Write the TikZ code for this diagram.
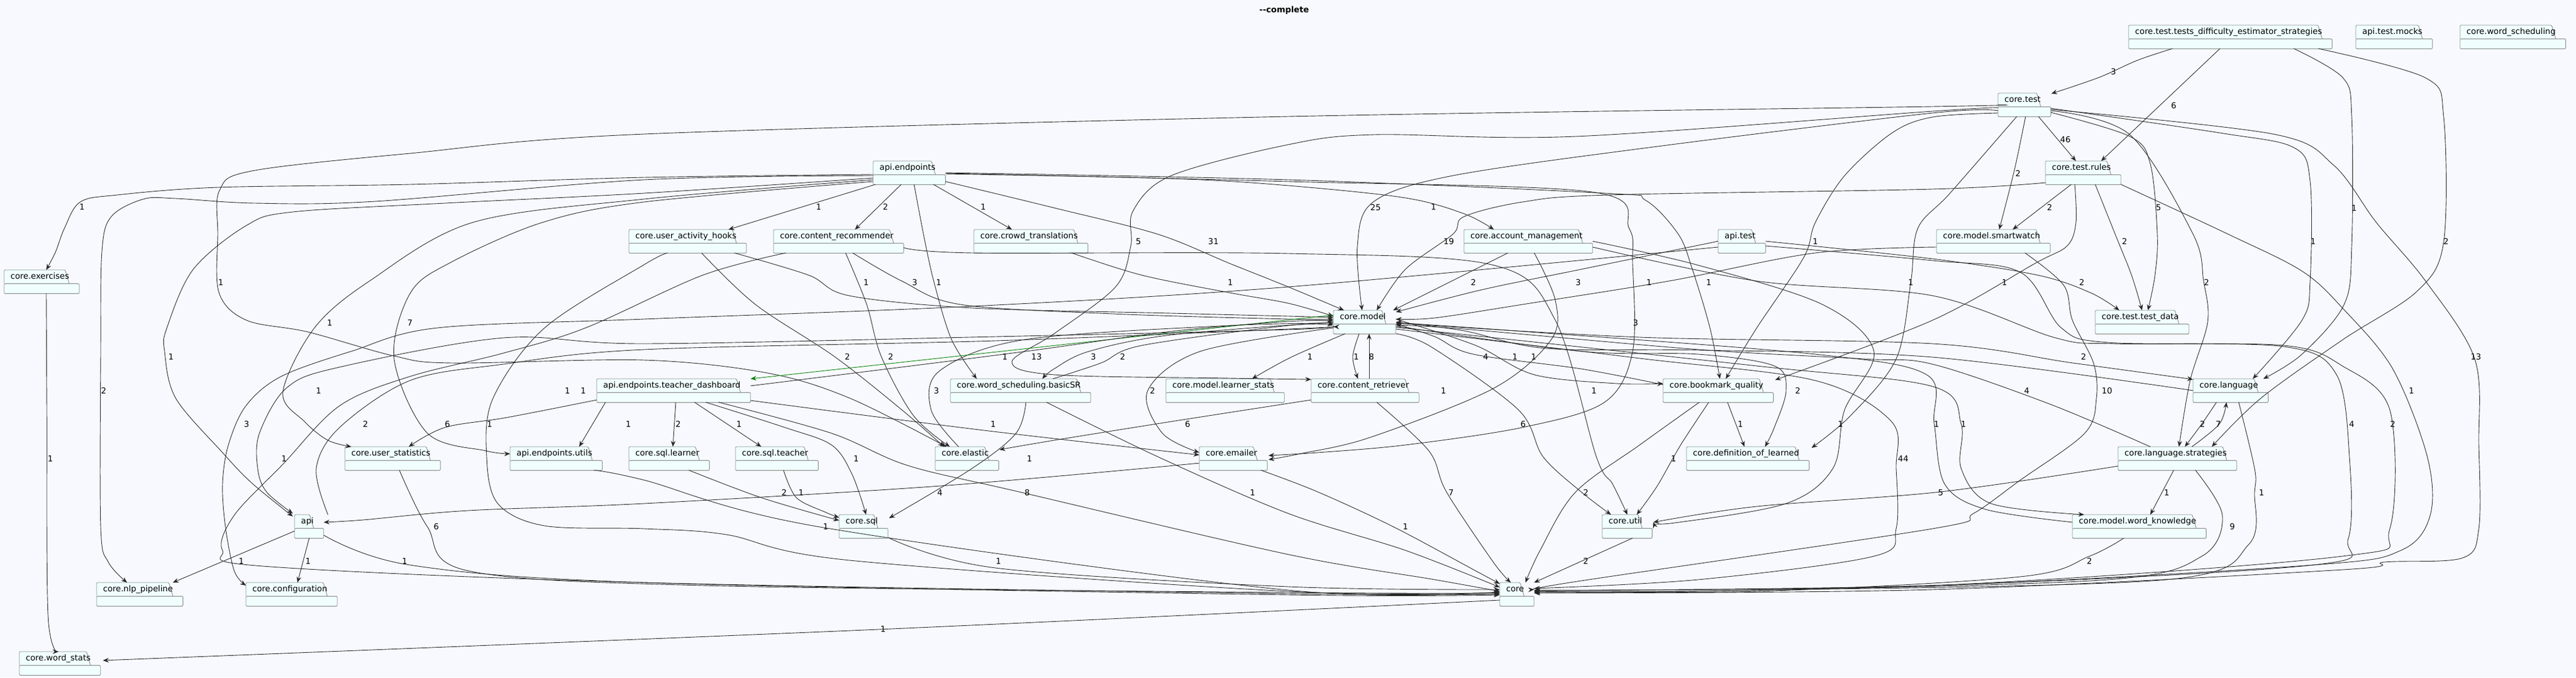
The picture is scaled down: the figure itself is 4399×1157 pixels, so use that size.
\documentclass[tikz,border=0pt]{standalone}
\usepackage{fontspec}
\setmainfont{DejaVu Sans}
\usetikzlibrary{arrows.meta,calc,fit}
\definecolor{bgc}{HTML}{F8F9FE}
\definecolor{pkgfill}{HTML}{F0FFFE}
\definecolor{pkgline}{HTML}{858C8A}
\definecolor{cyc}{HTML}{008000}
\tikzset{
  pkgtab/.style={inner sep=0pt, minimum height=23pt, text height=10.5pt, text depth=3pt, anchor=north west, font=\fontsize{14}{16}\selectfont},
  pkgpart/.style={fill=pkgfill, draw=pkgline, line width=0.9pt, rounded corners=1.5pt},
  dep/.style={draw=black!85, line width=0.9pt, -{Stealth[length=10pt,width=8pt,inset=3.5pt]}},
  lbl/.style={font=\fontsize{14}{16}\selectfont, inner sep=0pt},
  sm/.style={smooth, tension=0.55},
}
\newcommand\pkg[3]{%
  \node[pkgtab] (#1t) at (#2) {\hspace{11pt}\phantom{#3}\hspace{15pt}};
  \coordinate (#1c) at ([xshift=17pt,yshift=-17pt]#1t.south east);
  \path[pkgpart] (#1t.south west) -- (#1t.north west) -- ([xshift=-7pt]#1t.north east) -- (#1t.south east);
  \path[pkgpart] (#1t.south west) rectangle (#1c);
  \node[pkgtab] (#1x) at (#2) {\hspace{11pt}#3\hspace{15pt}};
  \node[inner sep=0pt, outer sep=0pt, fit={(#1t) (#1c)}] (#1) {};
}
\begin{document}
\begin{tikzpicture}[x=1pt,y=-1pt]
\useasboundingbox (0,0) rectangle (4399,1157);
\fill[bgc] (0,0) rectangle (4399,1157);
\node[font=\bfseries\fontsize{14}{16}\selectfont] (title) at (2193,18) {-\kern0pt-complete};
% packages
\pkg{tde}{3635,43}{core.test.tests\_difficulty\_estimator\_strategies}
\pkg{atm}{4023,43}{api.test.mocks}
\pkg{wsch}{4201,43}{core.word\_scheduling}
\pkg{ctest}{3412,159}{core.test}
\pkg{ae}{1491,275}{api.endpoints}
\pkg{tr}{3493,275}{core.test.rules}
\pkg{uah}{1074,392}{core.user\_activity\_hooks}
\pkg{cr}{1321,392}{core.content\_recommender}
\pkg{ct}{1663,392}{core.crowd\_translations}
\pkg{am}{2500,392}{core.account\_management}
\pkg{at}{2934,392}{api.test}
\pkg{sw}{3307,392}{core.model.smartwatch}
\pkg{ex}{7,461}{core.exercises}
\pkg{m}{2277,530}{core.model}
\pkg{td}{3578,530}{core.test.test\_data}
\pkg{tdb}{1019,647}{api.endpoints.teacher\_dashboard}
\pkg{bsr}{1623,647}{core.word\_scheduling.basicSR}
\pkg{ls}{1991,647}{core.model.learner\_stats}
\pkg{crt}{2239,647}{core.content\_retriever}
\pkg{bq}{2840,647}{core.bookmark\_quality}
\pkg{lang}{3745,647}{core.language}
\pkg{us}{589,763}{core.user\_statistics}
\pkg{aeu}{871,763}{api.endpoints.utils}
\pkg{sl}{1074,763}{core.sql.learner}
\pkg{st}{1256,763}{core.sql.teacher}
\pkg{el}{1597,763}{core.elastic}
\pkg{em}{2048,763}{core.emailer}
\pkg{dl}{2880,763}{core.definition\_of\_learned}
\pkg{lst}{3617,763}{core.language.strategies}
\pkg{api}{503,879}{api}
\pkg{sql}{1433,879}{core.sql}
\pkg{util}{2736,879}{core.util}
\pkg{wk}{3539,879}{core.model.word\_knowledge}
\pkg{nlp}{165,995}{core.nlp\_pipeline}
\pkg{conf}{420,995}{core.configuration}
\pkg{core}{2561,995}{core}
\pkg{ws}{33,1113}{core.word\_stats}
% edges
\draw[dep] plot[sm] coordinates {($(tde.north west)+(75,40)$) (3650,103) (3585,132) ($(ctest.north west)+(91,1)$)};
\draw[dep] ($(tde.north west)+(156,40)$) -- ($(tr.north west)+(95,0)$);
\draw[dep] ($(ctest.north west)+(69,40)$) -- ($(tr.north west)+(52,0)$);
\draw[dep] plot[sm] coordinates {($(ctest.north west)+(47,40)$) (3440,290) ($(sw.north west)+(107,0)$)};
\draw[dep] ($(tr.north west)+(44,40)$) -- ($(sw.north west)+(130,0)$);
\draw[dep] plot[sm] coordinates {($(ctest.north east)+(0,33)$) (3637,233) (3672,280) (3684,400) (3680,470) ($(td.north west)+(90,0)$)};
\draw[dep] plot[sm] coordinates {($(tde.north west)+(282,40)$) (4001,133) (4016,200) (4016,420) (4003,520) (3931,605) ($(lang.north west)+(120,0)$)};
\draw[dep] plot[sm] coordinates {($(tde.north west)+(324,40)$) (4142,133) (4173,200) (4173,413) (4128,497) (4001,580) (3861,680) ($(lst.north west)+(160,0)$)};
\draw[dep] plot[sm] coordinates {($(ctest.north east)+(0,26)$) (3791,227) (3917,252) (3945,310) (3945,480) (3931,547) ($(lang.north west)+(102,0)$)};
\draw[dep] plot[sm] coordinates {($(ctest.north east)+(0,28)$) (3882,229) (3985,282) (4058,380) (4142,480) (4226,613) (4233,760) (4233,903) (4205,953) (4072,960) (4001,973) (3300,1007) ($(core.north east)+(0,18)$)};
\draw[dep] plot[sm] coordinates {($(ctest.north west)+(0,30)$) (3300,193) (2831,250) (2481,300) (2345,345) (2318,420) ($(m.north west)+(49,0)$)};
\draw[dep] plot[sm] coordinates {($(ctest.north west)+(0,25)$) (3300,190) (2691,233) (2347,230) (2200,247) (2000,300) (1935,360) (1931,420) (1905,490) (1800,570) (1728,618) (1800,640) (2100,646) ($(crt.north west)+(0,1)$)};
\draw[dep] plot[sm] coordinates {($(ctest.north west)+(0,20)$) (3300,182) (2200,199) (1100,229) (700,262) (430,292) (375,325) (372,400) (374,500) (421,547) (526,567) (673,608) (772,620) (1100,615) (1310,637) (1451,680) ($(el.north west)+(19,0)$)};
\draw[dep] plot[sm] coordinates {($(ae.north west)+(0,23)$) (1100,303) (700,315) (372,320) (200,333) (137,345) (110,390) (95,430) ($(ex.north west)+(72,0)$)};
\draw[dep] plot[sm] coordinates {($(ae.north west)+(0,25)$) (1100,307) (640,344) (435,347) (300,339) (245,340) (190,370) (174,430) (172,600) (172,900) (185,960) ($(nlp.north west)+(52,0)$)};
\draw[dep] ($(ae.north west)+(4,40)$) -- ($(uah.north west)+(170,0)$);
\draw[dep] ($(ae.north west)+(48,40)$) -- ($(cr.north west)+(139,0)$);
\draw[dep] ($(ae.north west)+(103,40)$) -- ($(ct.north west)+(65,0)$);
\draw[dep] plot[sm] coordinates {($(ae.north east)+(0,22)$) (2000,305) (2200,317) (2400,338) (2500,365) ($(am.north west)+(51,0)$)};
\draw[dep] plot[sm] coordinates {($(ae.north east)+(0,35)$) (1800,355) (1977,400) (2100,450) (2200,490) ($(m.north west)+(18,0)$)};
\draw[dep] plot[sm] coordinates {($(ae.north west)+(70,40)$) (1577,400) (1595,482) (1625,580) ($(bsr.north west)+(45,0)$)};
\draw[dep] plot[sm] coordinates {($(ae.north west)+(0,29)$) (1100,330) (760,347) (500,362) (421,385) (330,460) (285,560) (281,600) (300,680) (380,773) (430,825) ($(api.north west)+(-3,3)$)};
\draw[dep] plot[sm] coordinates {($(ae.north west)+(0,32)$) (1100,340) (807,380) (631,480) (537,560) (483,670) (520,720) (560,752) ($(us.north west)+(11,0)$)};
\draw[dep] plot[sm] coordinates {($(ae.north west)+(0,35)$) (1100,345) (926,380) (772,447) (701,500) (673,613) (730,740) (830,770) ($(aeu.north west)+(0,12)$)};
\draw[dep] plot[sm] coordinates {($(ae.north east)+(0,20)$) (2200,307) (2740,330) (2810,342) (2866,400) (2890,460) (2920,560) ($(bq.north west)+(97,0)$)};
\draw[dep] plot[sm] coordinates {($(ae.north east)+(0,21)$) (2200,310) (2719,328) (2782,390) (2788,450) (2788,600) (2740,687) (2600,730) (2400,760) (2250,773) ($(em.north east)+(2,15)$)};
\draw[dep] plot[sm] coordinates {($(tr.north west)+(0,37)$) (3300,323) (2747,333) (2600,345) (2500,370) (2481,400) (2400,460) ($(m.north west)+(74,0)$)};
\draw[dep] plot[sm] coordinates {($(ctest.north west)+(0,34)$) (3300,200) (3231,227) (3150,300) (3100,380) (3080,440) (3000,560) ($(bq.north west)+(107,0)$)};
\draw[dep] plot[sm] coordinates {($(tr.north west)+(85,40)$) (3612,400) (3640,470) ($(td.north west)+(80,0)$)};
\draw[dep] plot[sm] coordinates {($(at.north east)+(0,20)$) (3300,442) (3480,470) (3570,500) ($(td.north west)+(41,0)$)};
\draw[dep] plot[sm] coordinates {($(tr.north west)+(50,40)$) (3545,380) (3530,420) (3475,450) (3300,547) ($(bq.north east)+(3,2)$)};
\draw[dep] plot[sm] coordinates {($(tr.north east)+(0,40)$) (3805,400) (3931,463) (4001,527) (4086,630) (4145,780) (4150,880) (4100,940) (3950,965) (3300,1000) ($(core.north east)+(0,14)$)};
\draw[dep] plot[sm] coordinates {($(ctest.north west)+(32,40)$) (3330,330) (3275,390) (3263,482) (3238,613) (3160,710) ($(dl.north east)+(4,2)$)};
\draw[dep] plot[sm] coordinates {($(ctest.north east)+(0,30)$) (3637,230) (3745,400) (3763,480) (3770,550) (3740,650) ($(lst.north west)+(104,0)$)};
\draw[dep] plot[sm] coordinates {($(sw.north west)+(0,30)$) (3100,432) (2850,480) (2600,520) (2450,543) ($(m.north east)+(0,15)$)};
\draw[dep] ($(am.north west)+(75,40)$) -- ($(m.north west)+(102,0)$);
\draw[dep] plot[sm] coordinates {($(at.north west)+(0,20)$) (2700,460) (2530,495) ($(m.north east)+(0,3)$)};
\draw[dep] plot[sm] coordinates {($(ct.north west)+(167,40)$) (1950,470) (2100,500) (2200,518) ($(m.north west)+(0,10)$)};
\draw[dep] plot[sm] coordinates {($(cr.north west)+(135,40)$) (1540,480) (1640,520) (1900,536) (2200,545) ($(m.north west)+(0,15)$)};
\draw[dep] plot[sm] coordinates {($(uah.north west)+(180,40)$) (1381,470) (1450,505) (1660,526) (2000,535) (2200,540) ($(m.north west)+(0,12)$)};
\draw[dep] plot[sm] coordinates {($(uah.north west)+(124,40)$) (1290,520) (1425,609) (1540,700) ($(el.north west)+(15,0)$)};
\draw[dep] plot[sm] coordinates {($(cr.north west)+(123,40)$) (1480,520) (1505,609) (1560,710) ($(el.north west)+(25,0)$)};
\draw[dep] plot[sm] coordinates {($(el.north west)+(40,0)$) (1590,700) (1605,633) (1750,580) (2100,556) ($(m.north west)+(0,22)$)};
\draw[dep, draw=cyc, -{Stealth[length=10pt,width=8pt,inset=3.5pt,color=cyc]}] ($(m.north west)+(0,8)$) -- (tdb.north east);
\draw[dep] plot[sm] coordinates {($(tdb.north east)+(0,12)$) (1500,632) (1760,599) (2000,566) (2200,549) ($(m.north west)+(0,18)$)};
\draw[dep] plot[sm] coordinates {($(m.north west)+(0,20)$) (2000,572) (1860,600) (1800,630) ($(bsr.north west)+(157,0)$)};
\draw[dep] plot[sm] coordinates {($(bsr.north west)+(175,0)$) (1880,620) (1950,590) (2200,556) ($(m.north west)+(0,25)$)};
\draw[dep] plot[sm] coordinates {($(m.north west)+(20,40)$) (2205,610) ($(ls.north west)+(147,0)$)};
\draw[dep] plot[sm] coordinates {($(m.north west)+(44,40)$) (2310,610) ($(crt.north west)+(80,0)$)};
\draw[dep] ($(crt.north west)+(99,0)$) -- ($(m.north west)+(61,40)$);
\draw[dep] plot[sm] coordinates {($(bq.north west)+(0,10)$) (2700,630) (2516,605) (2450,575) ($(m.north east)+(0,23)$)};
\draw[dep] plot[sm] coordinates {($(m.north east)+(0,15)$) (2520,590) (2620,640) (2760,655) ($(bq.north west)+(0,8)$)};
\draw[dep] plot[sm] coordinates {($(lang.north west)+(0,20)$) (3300,610) (2900,598) (2640,595) (2500,565) ($(m.north east)+(0,20)$)};
\draw[dep] plot[sm] coordinates {($(m.north east)+(0,22)$) (2800,576) (3300,587) (3540,620) ($(lang.north west)+(0,1)$)};
\draw[dep] plot[sm] coordinates {($(m.north west)+(0,27)$) (2200,563) (1700,575) (1100,587) (860,577) (580,627) (490,662) (443,740) (440,800) (455,840) ($(api.north west)+(-3,-2)$)};
\draw[dep] plot[sm] coordinates {($(at.north west)+(0,30)$) (2200,490) (1661,523) (1100,545) (747,560) (600,600) (480,643) (420,693) (390,760) (380,827) (385,900) (400,975) ($(conf.north west)+(0,5)$)};
\draw[dep] plot[sm] coordinates {($(api.north west)+(57,0)$) (540,800) (580,730) (700,650) (860,622) (1100,597) (1700,582) (2200,562) ($(m.north west)+(0,28)$)};
\draw[dep] plot[sm] coordinates {($(cr.north west)+(21,40)$) (1200,470) (1000,560) (860,603) (700,643) (580,693) (483,793) (400,880) (380,940) (449,967) (1100,995) (2200,1014) ($(core.north west)+(0,20)$)};
\draw[dep] plot[sm] coordinates {($(am.north west)+(120,40)$) (2656,513) (2649,580) (2551,663) (2340,747) (2220,775) ($(em.north east)+(2,22)$)};
\draw[dep] plot[sm] coordinates {($(am.north east)+(0,20)$) (2900,453) (3112,520) (3200,600) (3150,700) (3130,800) (3050,860) (2860,893) ($(util.north east)+(2,13)$)};
\draw[dep] plot[sm] coordinates {($(cr.north east)+(0,31)$) (1661,432) (2200,433) (2551,453) (2656,547) (2726,780) (2754,827) ($(util.north west)+(43,0)$)};
\draw[dep] plot[sm] coordinates {($(m.north east)+(0,27)$) (2700,600) (2900,605) (3030,625) (3050,667) (3030,730) ($(dl.north west)+(134,0)$)};
\draw[dep] plot[sm] coordinates {($(lst.north west)+(55,0)$) (3500,690) (3300,622) (3182,613) (2901,597) (2500,562) ($(m.north east)+(0,25)$)};
\draw[dep] plot[sm] coordinates {($(sw.north west)+(151,40)$) (3524,487) (3539,547) (3575,620) (3580,680) (3560,740) (3450,820) (3370,877) (3300,903) (2700,992) ($(core.north east)+(0,12)$)};
\draw[dep] plot[sm] coordinates {($(at.north east)+(0,28)$) (3300,445) (3450,465) (3520,560) (3600,585) (3900,592) (3990,640) (4012,780) (4010,920) (3950,965) (3300,1000) ($(core.north east)+(0,14)$)};
\draw[dep] plot[sm] coordinates {($(am.north east)+(0,30)$) (3000,480) (3300,505) (3510,577) (3609,587) (3900,590) (4000,625) (4081,700) (4081,903) (4000,950) (3300,1000) ($(core.north east)+(0,13)$)};
\draw[dep] plot[sm] coordinates {($(wk.north west)+(0,13)$) (3391,870) (3321,827) (3303,724) (3290,640) (3100,605) (2600,566) ($(m.north east)+(0,21)$)};
\draw[dep] plot[sm] coordinates {($(m.north east)+(0,29)$) (3000,625) (3300,660) (3349,724) (3349,800) (3400,860) ($(wk.north west)+(20,0)$)};
\draw[dep] plot[sm] coordinates {($(m.north west)+(0,30)$) (2050,600) (1960,667) (1985,740) ($(em.north west)+(0,10)$)};
\draw[dep] plot[sm] coordinates {($(tdb.north west)+(0,36)$) (866,713) (760,730) ($(us.north west)+(109,0)$)};
\draw[dep] ($(tdb.north west)+(15,40)$) -- ($(aeu.north west)+(118,0)$);
\draw[dep] ($(tdb.north west)+(135,40)$) -- ($(sl.north west)+(75,0)$);
\draw[dep] ($(tdb.north west)+(167,40)$) -- ($(st.north west)+(44,0)$);
\draw[dep] plot[sm] coordinates {($(tdb.north east)+(0,37)$) (1680,735) ($(em.north west)+(0,14)$)};
\draw[dep] plot[sm] coordinates {($(tdb.north west)+(186,40)$) (1340,730) (1420,760) (1455,810) ($(sql.north west)+(46,0)$)};
\draw[dep] plot[sm] coordinates {($(tdb.north west)+(208,40)$) (1420,740) (1550,795) (1740,840) (2200,947) (2450,990) ($(core.north west)+(0,15)$)};
\draw[dep] plot[sm] coordinates {($(bsr.north west)+(129,40)$) (1735,740) (1660,800) ($(sql.north east)+(2,6)$)};
\draw[dep] plot[sm] coordinates {($(bsr.north west)+(164,40)$) (1977,780) (2200,877) (2400,940) ($(core.north west)+(0,8)$)};
\draw[dep] plot[sm] coordinates {($(crt.north west)+(0,36)$) (2000,720) (1800,752) ($(el.north east)+(1,5)$)};
\draw[dep] plot[sm] coordinates {($(crt.north west)+(112,40)$) (2440,770) (2470,840) (2550,960) ($(core.north west)+(19,0)$)};
\draw[dep] plot[sm] coordinates {($(m.north east)+(0,40)$) (2445,593) (2593,700) (2635,780) (2700,840) ($(util.north west)+(15,0)$)};
\draw[dep] ($(bq.north west)+(110,40)$) -- ($(dl.north west)+(99,0)$);
\draw[dep] plot[sm] coordinates {($(bq.north west)+(78,40)$) (2870,760) (2830,830) ($(util.north west)+(59,0)$)};
\draw[dep] plot[sm] coordinates {($(bq.north west)+(62,40)$) (2800,760) (2690,841) (2630,940) ($(core.north west)+(44,0)$)};
\draw[dep] ($(util.north west)+(52,40)$) -- (core.north east);
\draw[dep] plot[sm] coordinates {($(m.north east)+(0,32)$) (2800,612) (3100,650) (3230,720) (3238,800) (3238,903) (3200,950) (2900,990) ($(core.north east)+(0,10)$)};
\draw[dep] plot[sm] coordinates {($(em.north west)+(0,28)$) (1605,830) (1100,860) (800,872) (620,888) ($(api.north east)+(0,13)$)};
\draw[dep] plot[sm] coordinates {($(em.north west)+(105,40)$) (2250,840) (2380,900) (2520,975) ($(core.north west)+(0,2)$)};
\draw[dep] plot[sm] coordinates {($(sl.north west)+(102,40)$) (1300,850) ($(sql.north west)+(0,10)$)};
\draw[dep] plot[sm] coordinates {($(st.north west)+(82,40)$) (1360,850) (1410,875) ($(sql.north west)+(0,5)$)};
\draw[dep] plot[sm] coordinates {($(sql.north east)+(0,39)$) (1700,970) (2200,1002) ($(core.north west)+(0,12)$)};
\draw[dep] plot[sm] coordinates {($(us.north west)+(93,40)$) (730,900) (800,975) (1200,1000) (2200,1012) ($(core.north west)+(0,18)$)};
\draw[dep] plot[sm] coordinates {($(aeu.north west)+(143,40)$) (1100,820) (1400,900) (2200,1008) ($(core.north west)+(0,16)$)};
\draw[dep] ($(api.north west)+(0,28)$) -- ($(nlp.north west)+(130,0)$);
\draw[dep] ($(api.north west)+(25,40)$) -- ($(conf.north west)+(88,0)$);
\draw[dep] plot[sm] coordinates {($(api.north east)+(0,35)$) (700,965) (1100,995) (2200,1016) ($(core.north west)+(0,21)$)};
\draw[dep] plot[sm] coordinates {($(wk.north west)+(88,40)$) (3568,950) (3450,985) (3000,1010) ($(core.north east)+(0,15)$)};
\draw[dep] ($(lst.north west)+(95,40)$) -- ($(wk.north west)+(133,0)$);
\draw[dep] plot[sm] coordinates {($(lst.north west)+(0,33)$) (3314,840) (3000,865) ($(util.north east)+(2,13)$)};
\draw[dep] plot[sm] coordinates {($(lst.north west)+(132,40)$) (3795,880) (3760,950) (3600,990) (3000,1008) ($(core.north east)+(0,17)$)};
\draw[dep] plot[sm] coordinates {($(lang.north west)+(40,40)$) (3760,724) ($(lst.north west)+(114,0)$)};
\draw[dep] plot[sm] coordinates {($(lst.north west)+(126,0)$) (3790,724) ($(lang.north west)+(57,40)$)};
\draw[dep] plot[sm] coordinates {($(lang.north west)+(78,40)$) (3850,800) (3850,841) (3840,930) (3700,990) (3000,1008) ($(core.north east)+(0,16)$)};
\draw[dep] plot[sm] coordinates {($(ex.north west)+(72,40)$) (80,700) (82,1050) ($(ws.north west)+(67,0)$)};
\draw[dep] plot[sm] coordinates {($(core.north west)+(0,30)$) (1500,1075) ($(ws.north east)+(4,15)$)};
\draw[dep] plot[sm] coordinates {($(uah.north west)+(66,40)$) (1100,452) (930,560) (842,680) (831,780) (850,860) (930,898) (1100,903) (1240,913) (1451,957) (2200,1010) ($(core.north west)+(0,17)$)};
% labels
\node[lbl] (l1) at (3609,122) {3};
\node[lbl] (l2) at (3712,180) {6};
\node[lbl] (l3) at (3527,238) {46};
\node[lbl] (l4) at (3446,296) {2};
\node[lbl] (l5) at (140,353) {1};
\node[lbl] (l6) at (1398,353) {1};
\node[lbl] (l7) at (1512,353) {2};
\node[lbl] (l8) at (1679,353) {1};
\node[lbl] (l9) at (2349,354) {25};
\node[lbl] (l10) at (2448,353) {1};
\node[lbl] (l11) at (3500,354) {2};
\node[lbl] (l12) at (3686,354) {5};
\node[lbl] (l13) at (4020,355) {1};
\node[lbl] (l14) at (1944,412) {5};
\node[lbl] (l15) at (2072,412) {31};
\node[lbl] (l16) at (2474,412) {19};
\node[lbl] (l17) at (3100,412) {1};
\node[lbl] (l18) at (3628,412) {2};
\node[lbl] (l19) at (3950,412) {1};
\node[lbl] (l20) at (4177,412) {2};
\node[lbl] (l21) at (377,482) {1};
\node[lbl] (l22) at (1479,482) {1};
\node[lbl] (l23) at (1562,482) {3};
\node[lbl] (l24) at (1603,482) {1};
\node[lbl] (l25) at (2101,482) {1};
\node[lbl] (l26) at (2516,482) {2};
\node[lbl] (l27) at (2695,482) {3};
\node[lbl] (l28) at (2816,482) {1};
\node[lbl] (l29) at (2918,482) {1};
\node[lbl] (l30) at (3263,482) {1};
\node[lbl] (l31) at (3423,482) {1};
\node[lbl] (l32) at (3555,482) {2};
\node[lbl] (l33) at (3768,482) {2};
\node[lbl] (l34) at (563,551) {1};
\node[lbl] (l35) at (700,551) {7};
\node[lbl] (l36) at (2793,551) {3};
\node[lbl] (l37) at (292,609) {1};
\node[lbl] (l38) at (1447,609) {2};
\node[lbl] (l39) at (1521,609) {2};
\node[lbl] (l40) at (1716,609) {1};
\node[lbl] (l41) at (1770,609) {13};
\node[lbl] (l42) at (1867,609) {3};
\node[lbl] (l43) at (1917,609) {2};
\node[lbl] (l44) at (2237,609) {1};
\node[lbl] (l45) at (2316,609) {1};
\node[lbl] (l46) at (2342,609) {8};
\node[lbl] (l47) at (2537,609) {4};
\node[lbl] (l48) at (2587,609) {1};
\node[lbl] (l49) at (2619,609) {1};
\node[lbl] (l50) at (3558,609) {2};
\node[lbl] (l51) at (4228,609) {13};
\node[lbl] (l52) at (177,667) {2};
\node[lbl] (l53) at (544,667) {1};
\node[lbl] (l54) at (969,667) {1};
\node[lbl] (l55) at (996,667) {1};
\node[lbl] (l56) at (1599,667) {3};
\node[lbl] (l57) at (1968,667) {2};
\node[lbl] (l58) at (2465,667) {1};
\node[lbl] (l59) at (2722,667) {1};
\node[lbl] (l60) at (3070,667) {2};
\node[lbl] (l61) at (3461,667) {4};
\node[lbl] (l62) at (3598,667) {10};
\node[lbl] (l63) at (4118,667) {1};
\node[lbl] (l64) at (421,724) {3};
\node[lbl] (l65) at (624,724) {2};
\node[lbl] (l66) at (764,724) {6};
\node[lbl] (l67) at (836,724) {1};
\node[lbl] (l68) at (1073,724) {1};
\node[lbl] (l69) at (1158,724) {2};
\node[lbl] (l70) at (1262,724) {1};
\node[lbl] (l71) at (1696,724) {1};
\node[lbl] (l72) at (2028,724) {6};
\node[lbl] (l73) at (2601,724) {6};
\node[lbl] (l74) at (2972,724) {1};
\node[lbl] (l75) at (3143,724) {1};
\node[lbl] (l76) at (3307,724) {1};
\node[lbl] (l77) at (3353,724) {1};
\node[lbl] (l78) at (3761,724) {2};
\node[lbl] (l79) at (3788,724) {7};
\node[lbl] (l80) at (4016,724) {4};
\node[lbl] (l81) at (4086,724) {2};
\node[lbl] (l82) at (86,783) {1};
\node[lbl] (l83) at (485,783) {1};
\node[lbl] (l84) at (1462,783) {1};
\node[lbl] (l85) at (1758,783) {1};
\node[lbl] (l86) at (2858,783) {1};
\node[lbl] (l87) at (3250,783) {44};
\node[lbl] (l88) at (1339,841) {2};
\node[lbl] (l89) at (1368,841) {1};
\node[lbl] (l90) at (1605,841) {4};
\node[lbl] (l91) at (1754,841) {8};
\node[lbl] (l92) at (2139,841) {1};
\node[lbl] (l93) at (2478,841) {7};
\node[lbl] (l94) at (2708,841) {2};
\node[lbl] (l95) at (3314,841) {5};
\node[lbl] (l96) at (3700,841) {1};
\node[lbl] (l97) at (3862,841) {1};
\node[lbl] (l98) at (745,899) {6};
\node[lbl] (l99) at (1410,899) {1};
\node[lbl] (l100) at (2400,899) {1};
\node[lbl] (l101) at (3812,899) {9};
\node[lbl] (l102) at (412,958) {1};
\node[lbl] (l103) at (526,958) {1};
\node[lbl] (l104) at (691,958) {1};
\node[lbl] (l105) at (1705,958) {1};
\node[lbl] (l106) at (2708,958) {2};
\node[lbl] (l107) at (3568,958) {2};
\node[lbl] (l108) at (1508,1074) {1};
\end{tikzpicture}
\end{document}
